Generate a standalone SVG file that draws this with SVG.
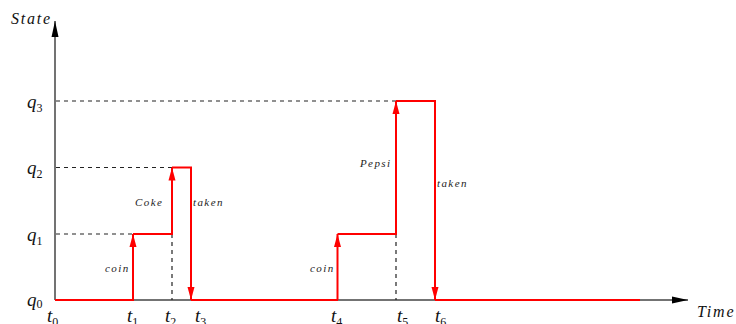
<svg xmlns="http://www.w3.org/2000/svg" width="736" height="324" viewBox="0 0 736 324">
<defs>
<style>
.axis{stroke:#444;stroke-width:1.5;fill:none}
.dash{stroke:#222;stroke-width:1.2;stroke-dasharray:4,4;fill:none}
.red{stroke:#ff0000;stroke-width:2;fill:none}
text{font-family:'Liberation Serif','DejaVu Serif',serif}
.lbl{font-style:italic;font-size:11px;letter-spacing:1.4px;fill:#222}
.big{font-style:italic;font-size:16px;letter-spacing:1.8px;fill:#111}
.q{font-style:italic;font-size:19px;fill:#111}
.sub{font-style:normal;font-size:12px;fill:#111}
</style>
<marker id="ra" markerWidth="13" markerHeight="8" refX="13" refY="4" orient="auto" markerUnits="userSpaceOnUse">
<path d="M0,0.5 L13,4 L0,7.5 Z" fill="#ff0000"/>
</marker>
<marker id="ka" markerWidth="16" markerHeight="8" refX="16" refY="4" orient="auto" markerUnits="userSpaceOnUse">
<path d="M0,0.5 L16,4 L0,7.5 Z" fill="#000"/>
</marker>
</defs>
<g id="axes">
<line class="axis" x1="55" y1="300" x2="55" y2="21" marker-end="url(#ka)"/>
<line class="axis" x1="55" y1="300" x2="688" y2="300" marker-end="url(#ka)"/>
<text class="big" x="11" y="24">State</text>
<text class="big" x="697" y="317">Time</text>
</g>
<g id="guides">
<line class="dash" x1="56" y1="101" x2="396" y2="101"/>
<line class="dash" x1="56" y1="167.5" x2="172" y2="167.5"/>
<line class="dash" x1="56" y1="234" x2="133" y2="234"/>
<line class="dash" x1="172" y1="234" x2="172" y2="300"/>
<line class="dash" x1="396" y1="234" x2="396" y2="300"/>
</g>
<g id="q-labels">
<text class="q" x="27" y="108">q<tspan class="sub" dy="4">3</tspan></text>
<text class="q" x="27" y="174">q<tspan class="sub" dy="4">2</tspan></text>
<text class="q" x="27" y="241">q<tspan class="sub" dy="4">1</tspan></text>
<text class="q" x="27" y="306">q<tspan class="sub" dy="2">0</tspan></text>
</g>
<g id="t-labels">
<text class="q" x="47" y="322">t<tspan class="sub" dy="4">0</tspan></text>
<text class="q" x="127" y="322">t<tspan class="sub" dy="4">1</tspan></text>
<text class="q" x="165" y="322">t<tspan class="sub" dy="4">2</tspan></text>
<text class="q" x="195" y="322">t<tspan class="sub" dy="4">3</tspan></text>
<text class="q" x="331" y="322">t<tspan class="sub" dy="4">4</tspan></text>
<text class="q" x="397" y="322">t<tspan class="sub" dy="4">5</tspan></text>
<text class="q" x="435" y="322">t<tspan class="sub" dy="4">6</tspan></text>
</g>
<g id="connectors">
<line class="red" x1="55" y1="300" x2="134" y2="300"/>
<line class="red" x1="133" y1="300" x2="133" y2="234" marker-end="url(#ra)"/>
<line class="red" x1="133" y1="234" x2="173" y2="234"/>
<line class="red" x1="172" y1="234" x2="172" y2="167.5" marker-end="url(#ra)"/>
<line class="red" x1="172" y1="167.5" x2="192" y2="167.5"/>
<line class="red" x1="191" y1="167.5" x2="191" y2="300" marker-end="url(#ra)"/>
<line class="red" x1="191" y1="300" x2="338" y2="300"/>
<line class="red" x1="337.5" y1="300" x2="337.5" y2="234" marker-end="url(#ra)"/>
<line class="red" x1="337.5" y1="234" x2="397" y2="234"/>
<line class="red" x1="396" y1="234" x2="396" y2="101" marker-end="url(#ra)"/>
<line class="red" x1="396" y1="101" x2="436" y2="101"/>
<line class="red" x1="435" y1="101" x2="435" y2="300" marker-end="url(#ra)"/>
<line class="red" x1="435" y1="300" x2="640" y2="300"/>
</g>
<g id="transition-labels">
<text class="lbl" x="105" y="272">coin</text>
<text class="lbl" x="135" y="206">Coke</text>
<text class="lbl" x="193" y="206">taken</text>
<text class="lbl" x="310" y="272">coin</text>
<text class="lbl" x="360" y="167">Pepsi</text>
<text class="lbl" x="437" y="187">taken</text>
</g>
</svg>
